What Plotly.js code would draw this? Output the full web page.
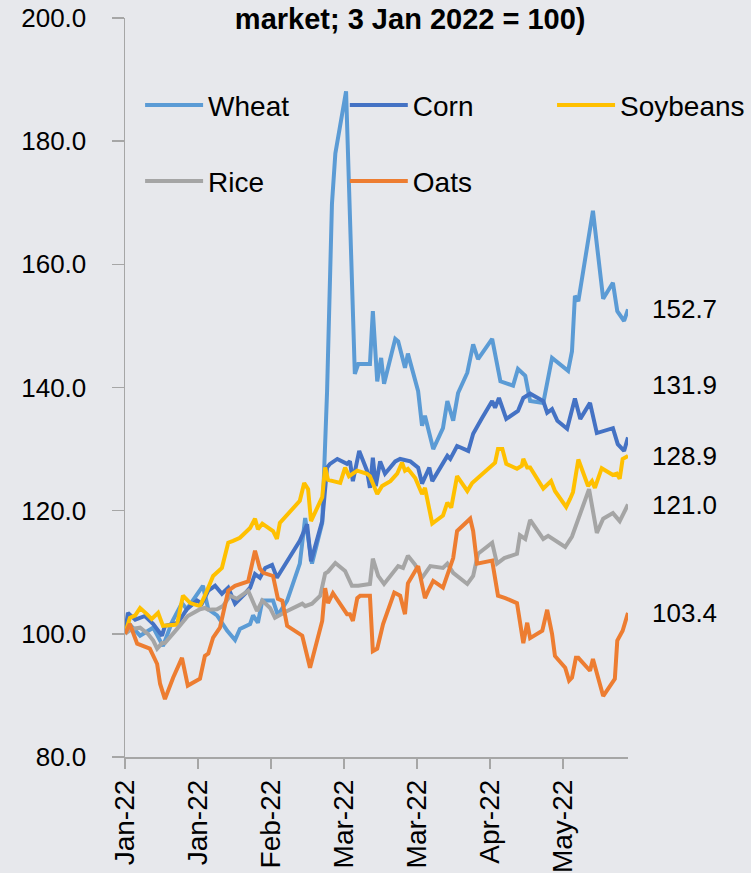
<!DOCTYPE html>
<html>
<head>
<meta charset="utf-8">
<script src="https://cdn.plot.ly/plotly-3.0.1.min.js"></script>
<style>
  html, body { margin: 0; padding: 0; background: #e7e8ec; }
  #chart { width: 751px; height: 873px; }
</style>
</head>
<body>
<div id="chart"></div>
<script>
// trading days since 3 Jan 2022 (0 = 3 Jan), index values
const tickDays = [0, 15, 30, 45, 60, 75, 90];
const tickLabels = ["Jan-22", "Jan-22", "Feb-22", "Mar-22", "Mar-22", "Apr-22", "May-22"];

const wheatDay = [0, 1.0, 3.1, 5.8, 7.8, 9.7, 11.7, 12.7, 16.0, 17.1, 18.9, 21.0, 22.6, 23.6, 25.7, 26.3, 27.3, 28.2, 30.4, 31.4, 33.3, 35.9, 37.0, 38.4, 40.5, 41.5, 42.5, 43.2, 45.4, 46.2, 47.2, 47.9, 50.3, 50.9, 51.8, 52.6, 53.2, 55.5, 56.1, 57.5, 58.1, 60.2, 61.0, 61.6, 63.3, 65.3, 66.2, 67.4, 68.4, 70.3, 71.5, 72.5, 75.4, 77.1, 79.7, 80.7, 82.2, 83.2, 85.9, 87.7, 91.0, 91.8, 92.4, 93.1, 96.1, 98.2, 100.2, 101.1, 102.5, 103.3];
const wheatVal = [100, 101.5, 99.7, 101, 98, 102, 105, 104, 107.8, 104, 103, 100.5, 99, 100.8, 101.6, 103, 101.8, 105.4, 105.4, 103, 105.4, 111.4, 118.8, 111.4, 118, 139.4, 169.8, 178, 188.1, 167, 142.2, 143.8, 143.8, 152.4, 141, 144.8, 140.6, 147.9, 147.5, 143.2, 145.5, 139.4, 133.8, 135.4, 130, 133.4, 137.8, 134.6, 139.1, 142.4, 147, 144.6, 147.9, 141, 140.3, 143, 141.9, 137.8, 137.5, 144.8, 142.7, 145.9, 154.9, 154, 168.7, 154.4, 157, 152.4, 150.8, 152.7];

const cornDay = [0, 0.6, 2.1, 4.1, 5.8, 7.6, 8.2, 10.9, 12.7, 14.8, 15.8, 17.1, 18.5, 19.9, 21.2, 22.6, 24.6, 25.7, 26.7, 27.7, 28.8, 30.2, 31.2, 35.9, 37.4, 38.2, 40.5, 41.5, 42.1, 43.6, 45.6, 46.2, 46.8, 48.1, 49.7, 50.3, 50.9, 51.5, 52.4, 53.4, 55.5, 56.5, 58.6, 60.2, 61.0, 62.5, 63.1, 65.3, 66.2, 66.8, 68.2, 70.5, 71.5, 73.3, 75.4, 76.0, 76.8, 78.3, 80.7, 81.8, 83.2, 85.9, 86.7, 87.7, 88.8, 90.8, 92.4, 93.5, 95.5, 96.9, 97.6, 100.2, 101.2, 102.5, 103.3];
const cornVal = [100, 103.4, 102.3, 102.9, 101.6, 99.7, 101.3, 101.8, 104, 105.4, 104.9, 107, 107.8, 106.5, 107.5, 104.9, 106.5, 107.5, 109.7, 109.1, 110.7, 111.2, 109.1, 115.1, 117.8, 111.8, 118.3, 127, 127.6, 128.4, 127.6, 128, 124.8, 129.7, 126.5, 123.7, 128.6, 124, 128, 126, 128, 128.4, 128, 127, 124.4, 127, 124.8, 127.6, 128.9, 128.4, 130.5, 129.7, 132.5, 135, 137.8, 136.7, 138.3, 134.9, 136.2, 138.3, 139, 137.8, 135.9, 136.5, 134.6, 133.3, 138.2, 134.9, 137.5, 132.6, 132.8, 133.4, 130.8, 129.7, 131.9];

const soyDay = [0, 0.4, 1.0, 2.1, 3.1, 4.5, 5.5, 6.8, 7.8, 10.7, 11.9, 13.4, 15.4, 16.4, 18.1, 19.9, 21.2, 22.2, 23.6, 25.7, 26.7, 27.3, 28.2, 30.4, 31.2, 31.8, 35.9, 36.8, 37.6, 38.2, 40.5, 41.1, 41.7, 44.2, 45.2, 46.0, 47.7, 49.7, 50.3, 51.8, 52.8, 54.5, 55.9, 56.9, 57.5, 58.1, 59.6, 61.0, 61.6, 63.1, 65.3, 66.2, 67.0, 68.2, 70.3, 71.3, 72.5, 76.0, 76.6, 77.5, 78.3, 80.5, 81.5, 81.8, 82.6, 83.2, 85.9, 87.5, 88.3, 90.6, 91.4, 92.0, 93.1, 95.1, 95.9, 96.5, 97.9, 100.2, 101.0, 101.6, 102.2, 103.3];
const soyVal = [100, 101, 102.6, 103, 104.2, 103.2, 102.4, 103.4, 101.3, 101.5, 106.2, 105, 104.5, 106.2, 109.4, 110.7, 114.8, 115.1, 115.6, 117.2, 118.7, 117, 117.9, 116.7, 115.4, 118, 121.6, 124.5, 123.5, 118.3, 122.2, 127, 125, 124.5, 127, 125.6, 126.5, 126, 125.6, 122.7, 124, 124.8, 126, 127.8, 126.5, 126.8, 125.3, 122.7, 123.7, 117.9, 119.2, 121.3, 120.5, 125.6, 123.2, 124.5, 125.3, 127.8, 130, 130, 127.6, 126.8, 127.3, 128.4, 127, 127, 123.6, 124.8, 123.2, 120.6, 121.9, 123, 128.3, 124, 124.8, 123.7, 126.9, 125.8, 126, 125.2, 128.4, 128.9];

const riceDay = [0, 1.4, 3.1, 4.7, 5.8, 6.6, 7.6, 8.2, 10.7, 12.9, 15.4, 16.4, 17.1, 18.9, 20.1, 21.6, 23.0, 25.3, 27.1, 28.2, 29.8, 30.8, 33.3, 36.4, 37.0, 38.4, 40.1, 41.1, 41.7, 43.2, 45.2, 46.6, 47.9, 50.3, 50.9, 52.0, 53.2, 56.1, 57.1, 58.1, 59.6, 61.0, 62.7, 65.3, 66.2, 67.4, 70.3, 71.5, 72.5, 75.4, 76.4, 77.9, 80.5, 81.1, 82.2, 83.2, 85.9, 86.9, 90.4, 91.8, 95.3, 96.9, 98.2, 100.2, 101.6, 103.3];
const riceVal = [100, 100.8, 101, 100, 98.9, 97.6, 98.5, 98.5, 100.8, 102.9, 104, 104.2, 103.9, 104, 104.5, 106.2, 105.7, 107, 103.7, 105.4, 104.2, 102.6, 103.7, 104.9, 104.5, 104.9, 106.2, 109.8, 110.1, 111.5, 110.2, 107.8, 107.8, 108.1, 112.2, 109.4, 108.1, 111, 110.7, 112.7, 111.2, 109.1, 111, 110.7, 111.4, 109.9, 108.1, 109.4, 113, 114.8, 111.4, 112.3, 113, 116, 115.4, 118.5, 115.4, 115.9, 114.1, 115.8, 123.5, 116.4, 118.7, 119.6, 118.3, 121];

const oatsDay = [0, 1.0, 2.5, 5.1, 6.6, 7.2, 8.2, 9.9, 11.7, 12.9, 15.4, 16.4, 17.1, 18.1, 19.5, 20.5, 21.2, 22.6, 25.3, 26.7, 27.7, 28.4, 30.4, 31.4, 32.3, 33.3, 36.4, 38.0, 40.5, 41.1, 41.7, 42.7, 45.6, 46.2, 46.8, 47.7, 48.3, 50.3, 50.9, 51.8, 53.0, 55.3, 56.5, 57.5, 58.1, 60.2, 61.0, 61.6, 62.3, 63.3, 65.3, 66.4, 67.4, 68.2, 70.9, 71.5, 72.3, 75.4, 76.6, 78.1, 80.5, 81.8, 82.6, 83.2, 85.7, 86.7, 87.7, 88.3, 90.4, 91.2, 91.8, 92.6, 93.1, 95.5, 96.1, 98.2, 100.6, 101.1, 102.2, 103.3];
const oatsVal = [100, 101.6, 98.4, 97.6, 95.1, 91.9, 89.4, 92.9, 96.1, 91.6, 92.7, 96.4, 96.8, 99.4, 101, 104.9, 107, 107.8, 108.5, 113.5, 110.6, 109.9, 109.4, 105.7, 105.4, 101.3, 99.7, 94.5, 102.1, 107.4, 105, 106.6, 103.2, 103.2, 102.1, 105.8, 106.2, 106.2, 97.2, 97.6, 101.6, 106.7, 106.2, 103.2, 108.2, 111, 108.1, 105.8, 107, 108.6, 107.5, 109.9, 112.3, 116.7, 118.7, 116.7, 111.4, 111.9, 106.2, 105.8, 105, 98.5, 101.8, 99.3, 100.5, 103.9, 100, 96.4, 94.5, 92.4, 92.9, 96.1, 96.1, 94, 95.9, 89.9, 92.7, 98.9, 100.5, 103.4];

// cada serie lleva su propia leyenda para colocarla como en el original (3 + 2 columnas)
const series = [
  { name: "Wheat", x: wheatDay, y: wheatVal, color: "#5b9bd5", legend: "legend", lx: 0.036, ly: 0.882, shift: 0 },
  { name: "Corn", x: cornDay, y: cornVal, color: "#4472c4", legend: "legend2", lx: 0.443, ly: 0.882, shift: 52 },
  { name: "Soybeans", x: soyDay, y: soyVal, color: "#ffc000", legend: "legend3", lx: 0.855, ly: 0.882, shift: 0 },
  { name: "Rice", x: riceDay, y: riceVal, color: "#a5a5a5", legend: "legend4", lx: 0.036, ly: 0.779, shift: 0 },
  { name: "Oats", x: oatsDay, y: oatsVal, color: "#ed7d31", legend: "legend5", lx: 0.443, ly: 0.779, shift: 0 }
];

const fuente = "Liberation Sans, Arial, Helvetica, sans-serif";

const trazas = series.map(s => ({
  x: s.x,
  y: s.y,
  name: s.name,
  type: "scatter",
  mode: "lines",
  line: { color: s.color, width: 4 },
  legend: s.legend,
  hoverinfo: "skip"
}));

// etiquetas con el ultimo valor de cada serie
const etiquetas = series.map(s => ({
  x: s.x[s.x.length - 1],
  y: s.y[s.y.length - 1],
  xref: "x",
  yref: "y",
  text: s.y[s.y.length - 1].toFixed(1),
  showarrow: false,
  xanchor: "left",
  yanchor: "middle",
  xshift: 22,
  yshift: s.shift,
  font: { family: fuente, size: 26, color: "#000" }
}));

const diseño = {
  width: 751,
  height: 873,
  paper_bgcolor: "#e7e8ec",
  plot_bgcolor: "#e7e8ec",
  margin: { l: 125, r: 123, t: 18, b: 116, autoexpand: false },
  showlegend: true,
  title: {
    text: "<b>market; 3 Jan 2022 = 100)</b>",
    font: { family: fuente, size: 29, color: "#000" },
    x: 0.567,
    xanchor: "center",
    xref: "paper",
    y: 0.978,
    yanchor: "middle"
  },
  xaxis: {
    range: [0, 103.3],
    tickmode: "array",
    tickvals: tickDays,
    ticktext: tickLabels,
    tickangle: -90,
    ticks: "outside",
    ticklen: 10,
    tickcolor: "#a6a6a6",
    tickwidth: 1.5,
    showline: true,
    linecolor: "#a6a6a6",
    linewidth: 1.5,
    showgrid: false,
    zeroline: false,
    tickfont: { family: fuente, size: 28, color: "#000" }
  },
  yaxis: {
    range: [80, 200],
    tickvals: [80, 100, 120, 140, 160, 180, 200],
    tickformat: ".1f",
    ticks: "outside",
    ticklen: 12,
    tickcolor: "#a6a6a6",
    tickwidth: 1.5,
    ticklabelstandoff: 20,
    showline: true,
    linecolor: "#a6a6a6",
    linewidth: 1.5,
    showgrid: false,
    zeroline: false,
    tickfont: { family: fuente, size: 26, color: "#000" }
  },
  annotations: etiquetas
};

series.forEach(s => {
  diseño[s.legend] = {
    x: s.lx - 0.006,
    y: s.ly,
    xref: "paper",
    yref: "paper",
    xanchor: "left",
    yanchor: "middle",
    bgcolor: "rgba(0,0,0,0)",
    font: { family: fuente, size: 28, color: "#000" },
    itemwidth: 58
  };
});

Plotly.newPlot("chart", trazas, diseño, { displayModeBar: false, staticPlot: true });
</script>
</body>
</html>
